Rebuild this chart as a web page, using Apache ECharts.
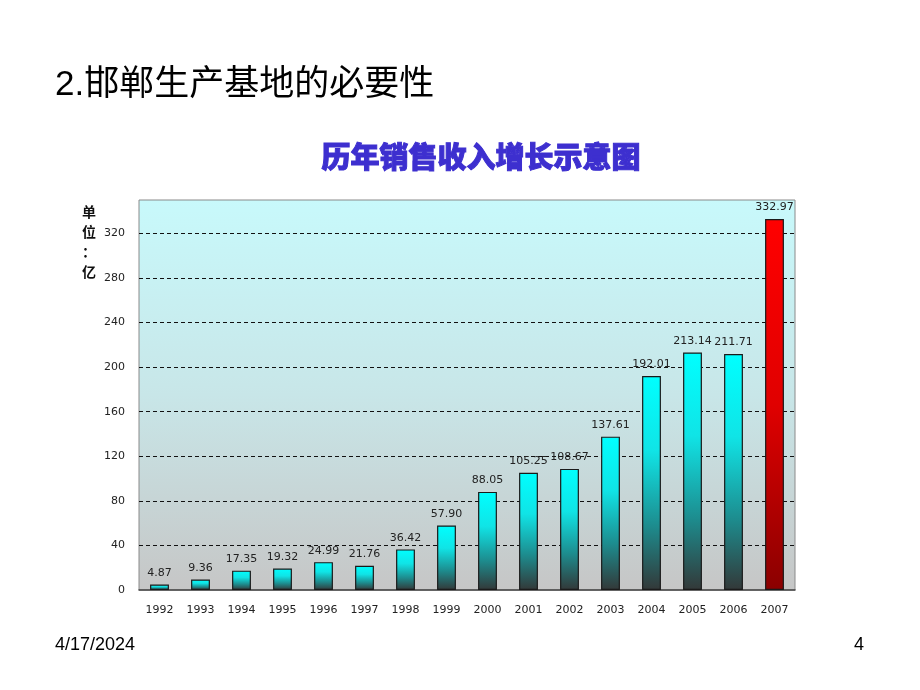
<!DOCTYPE html>
<html>
<head>
<meta charset="utf-8">
<script src="https://cdn.jsdelivr.net/npm/echarts@6/dist/echarts.min.js"></script>
<style>
html,body{margin:0;padding:0;background:#fff;}
#c{width:920px;height:690px;}
</style>
</head>
<body>
<div id="c"></div>
<script>
const years = ['1992','1993','1994','1995','1996','1997','1998','1999','2000','2001','2002','2003','2004','2005','2006','2007'];
const revenue = [4.87, 9.36, 17.35, 19.32, 24.99, 21.76, 36.42, 57.90, 88.05, 105.25, 108.67, 137.61, 192.01, 213.14, 211.71, 332.97];
const highlightYear = '2007';
const yMin = 0, yMax = 350, yStep = 40;

const cyanFill = new echarts.graphic.LinearGradient(0,0,0,1,[
  {offset:0,color:'#00ffff'},{offset:0.35,color:'#10e4e6'},{offset:0.7,color:'#1d8c8e'},{offset:1,color:'#333838'}]);
const redFill = new echarts.graphic.LinearGradient(0,0,0,1,[
  {offset:0,color:'#ff0000'},{offset:0.5,color:'#e00000'},{offset:1,color:'#8a0000'}]);

const chart = echarts.init(document.getElementById('c'), null, {renderer:'canvas'});
chart.setOption({
  backgroundColor:'#ffffff',
  animation:false,
  title:{
    text:'历年销售收入增长示意图',
    left:476, top:137, textAlign:'center',
    textStyle:{fontFamily:'Noto Sans CJK SC', fontWeight:900, fontSize:29, color:'#3d2fcf',
      textBorderColor:'#3d2fcf', textBorderWidth:1}
  },
  grid:{
    left:139, right:125, top:200, bottom:100,
    show:true, borderColor:'#8a8a8a', borderWidth:1,
    backgroundColor:new echarts.graphic.LinearGradient(0,0,0,1,[
      {offset:0,color:'#c8f9fb'},{offset:0.5,color:'#c8e6e8'},{offset:1,color:'#c6c6c6'}])
  },
  xAxis:{
    type:'category', data:years,
    axisLine:{lineStyle:{color:'#444',width:1.5}},
    axisTick:{inside:true,length:4,lineStyle:{color:'#444'}},
    axisLabel:{color:'#222',fontFamily:'DejaVu Sans',fontSize:11,margin:15}
  },
  yAxis:{
    type:'value', min:yMin, max:yMax, interval:yStep,
    axisLine:{show:false}, axisTick:{show:false},
    axisLabel:{color:'#222',fontFamily:'DejaVu Sans',fontSize:11,margin:14,showMaxLabel:false},
    splitLine:{show:true,showMinLine:false,showMaxLine:false,lineStyle:{color:'#111',type:[4,3],width:1}}
  },
  graphic:[
    {type:'text',left:55,top:68,style:{text:'2.邯郸生产基地的必要性',font:'35px "Liberation Sans","Noto Sans CJK SC"',fill:'#000'}},
    {type:'text',left:82,top:202,style:{text:'单\n位\n：\n亿',font:'bold 14px "Noto Sans CJK SC"',fill:'#111',lineHeight:20}},
    {type:'text',left:55,top:636,style:{text:'4/17/2024',font:'18px "Liberation Sans"',fill:'#000'}},
    {type:'text',right:56,top:636,style:{text:'4',font:'18px "Liberation Sans"',fill:'#000'}}
  ],
  series:[{
    type:'bar',
    barWidth:'46%',
    data:revenue.map((v,i)=>({value:v,itemStyle:{color: years[i]===highlightYear ? redFill : cyanFill}})),
    itemStyle:{borderColor:'#1a1a1a',borderWidth:1.2},
    label:{show:true,position:'top',distance:6,color:'#222',fontFamily:'DejaVu Sans',fontSize:11,
      formatter:p=>Number(p.value).toFixed(2)}
  }]
});
</script>
</body>
</html>
